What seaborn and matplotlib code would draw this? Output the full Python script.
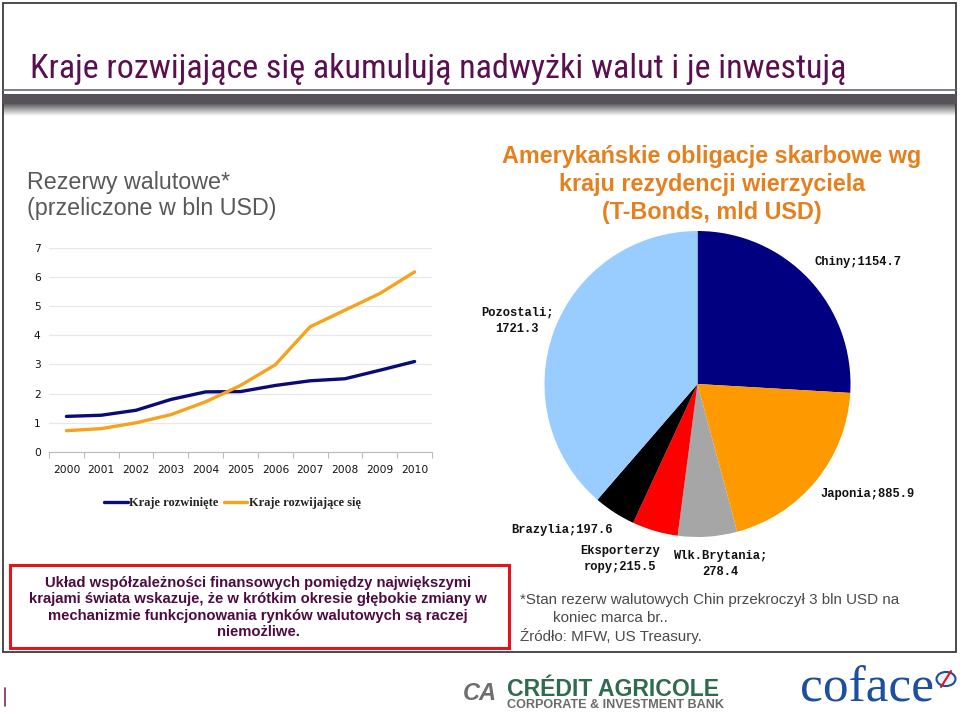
import numpy as np
import pandas as pd
import matplotlib
matplotlib.use("Agg")
import matplotlib.pyplot as plt
import seaborn as sns
from matplotlib import font_manager as fm
from matplotlib.patches import Rectangle, Circle
from matplotlib.lines import Line2D

# ---------------- data ----------------
years = [2000, 2001, 2002, 2003, 2004, 2005, 2006, 2007, 2008, 2009, 2010]
developed = [1.22, 1.26, 1.43, 1.80, 2.06, 2.07, 2.28, 2.44, 2.51, 2.80, 3.10]
developing = [0.73, 0.80, 1.00, 1.28, 1.72, 2.28, 2.99, 4.29, 4.86, 5.43, 6.17]
series_names = ["Kraje rozwinięte", "Kraje rozwijające się"]
line_colors = ["#0B0B78", "#F5A21F"]
y_ticks = [0, 1, 2, 3, 4, 5, 6, 7]

pie_names = ["Chiny", "Japonia", "Wlk.Brytania", "Eksporterzy ropy", "Brazylia", "Pozostali"]
pie_values = [1154.7, 885.9, 278.4, 215.5, 197.6, 1721.3]
pie_colors = ["#000080", "#FF9900", "#A6A6A6", "#FF0000", "#000000", "#99CCFF"]
pie_label_text = ["Chiny;1154.7", "Japonia;885.9", "Wlk.Brytania;\n278.4",
                  "Eksporterzy\nropy;215.5", "Brazylia;197.6", "Pozostali;\n1721.3"]

title = "Kraje rozwijające się akumulują nadwyżki walut i je inwestują"
left_sub = ["Rezerwy walutowe*", "(przeliczone w bln USD)"]
right_title = ["Amerykańskie obligacje skarbowe wg", "kraju rezydencji wierzyciela", "(T-Bonds, mld USD)"]
box_lines = ["Układ współzależności finansowych pomiędzy największymi",
             "krajami świata wskazuje, że w krótkim okresie głębokie zmiany w",
             "mechanizmie funkcjonowania rynków walutowych są raczej",
             "niemożliwe."]
foot_lines = ["*Stan rezerw walutowych Chin przekroczył 3 bln USD na",
              "koniec marca br..",
              "Źródło: MFW, US Treasury."]

# ---------------- setup ----------------
W, H = 960, 713
def fx(x): return x / W
def fy(y): return 1 - y / H

sns.set_theme(style="white")
plt.rcParams["font.family"] = ["Liberation Sans", "DejaVu Sans"]

# look for a condensed sans family (Arial Narrow look-alike) for the slide title
NARROW = {"family": "Liberation Sans", "stretch": "normal"}
ttf = fm.fontManager.ttflist
names = {f.name for f in ttf}
for cand in ["Liberation Sans Narrow", "Roboto Condensed", "Open Sans Condensed",
             "Noto Sans Condensed", "DejaVu Sans Condensed", "Arial Narrow"]:
    if cand in names:
        NARROW = {"family": cand, "stretch": "normal"}
        break
else:
    for f in ttf:
        if str(f.stretch) in ("condensed", "semi-condensed", "extra-condensed") and \
                f.name in ("DejaVu Sans", "Noto Sans", "Roboto", "Open Sans", "Liberation Sans"):
            NARROW = {"family": f.name, "stretch": f.stretch}
            break

fig = plt.figure(figsize=(9.6, 7.13), dpi=100)
fig.patch.set_facecolor("white")
renderer = fig.canvas.get_renderer()

def fit(t, width_px):
    w = t.get_window_extent(renderer).width
    t.set_fontsize(t.get_fontsize() * width_px / w)
    return t.get_fontsize()

# frame
fig.add_artist(Rectangle((fx(3), fy(652)), (956 - 3) / W, (652 - 3) / H, transform=fig.transFigure,
                         fill=False, edgecolor="#3c3c3c", lw=1.3, zorder=1))
# header bars
fig.add_artist(Line2D([fx(3), fx(956)], [fy(89.5), fy(89.5)], transform=fig.transFigure,
                      color="#6a6470", lw=1.2, zorder=1))
fig.add_artist(Rectangle((fx(3), fy(104)), (956 - 3) / W, 10.5 / H, transform=fig.transFigure,
                         facecolor="#57525a", edgecolor="none", zorder=1))
gax = fig.add_axes([fx(3), fy(116), (956 - 3) / W, 12 / H], zorder=0)
grad = np.linspace(0, 1, 50).reshape(-1, 1)
gax.imshow(grad, aspect="auto", cmap="gray", vmin=-0.6, vmax=1.0)
gax.axis("off")

# title texts
t = fig.text(fx(30), fy(69), title, ha="left", va="center", color="#5A0F4E", fontsize=24,
             family=NARROW["family"], fontstretch=NARROW["stretch"])
fit(t, 818)

s2 = fig.text(fx(27), fy(208), left_sub[1], ha="left", va="center", color="#595959", fontsize=15)
fs = fit(s2, 250)
fig.text(fx(27), fy(183), left_sub[0], ha="left", va="center", color="#595959", fontsize=fs)

r0 = fig.text(fx(712), fy(157), right_title[0], ha="center", va="center", color="#E4811E",
              fontsize=18, weight="bold")
fs = fit(r0, 420)
for i, ln in enumerate(right_title[1:]):
    fig.text(fx(712), fy(185 + 28 * i), ln, ha="center", va="center", color="#E4811E",
             fontsize=fs, weight="bold")

# ---------------- line chart ----------------
ax = fig.add_axes([fx(49), fy(452), (432 - 49) / W, (452 - 247.7) / H])
df = pd.DataFrame({"year": years * 2,
                   "value": developed + developing,
                   "series": [series_names[0]] * len(years) + [series_names[1]] * len(years)})
sns.lineplot(data=df, x="year", y="value", hue="series", hue_order=series_names,
             palette=line_colors, linewidth=2.4, ax=ax)
ax.set_xlim(1999.5, 2010.5)
ax.set_ylim(0, 7)
ax.set_xticks(years)
ax.set_xticklabels([str(y) for y in years])
ax.set_xticks(np.arange(1999.5, 2011, 1), minor=True)
ax.set_yticks(y_ticks)
ax.grid(axis="y", color="#e8e8e8", lw=0.9)
ax.grid(axis="x", visible=False)
ax.set_axisbelow(True)
ax.tick_params(axis="x", which="major", bottom=True, length=0, pad=9.5, labelsize=7.7, labelcolor="#111111")
ax.tick_params(axis="x", which="minor", bottom=True, length=4, width=0.8, color="#bbbbbb", direction="out")
ax.tick_params(axis="y", length=0, pad=6, labelsize=7.7, labelcolor="#111111")
for lab in ax.get_xticklabels() + ax.get_yticklabels():
    lab.set_fontfamily("DejaVu Sans")
for s in ["top", "right", "left"]:
    ax.spines[s].set_visible(False)
ax.spines["bottom"].set_color("#bbbbbb")
ax.spines["bottom"].set_linewidth(0.8)
ax.set_xlabel("")
ax.set_ylabel("")
ax.set_facecolor("none")

# legend: size the font so that the first label matches the reference width
probe = fig.text(0, 0, series_names[0], fontsize=9, family="Liberation Serif", weight="bold")
leg_fs = 9 * 89 / probe.get_window_extent(renderer).width
probe.remove()
handles, labels = ax.get_legend_handles_labels()
leg = ax.legend(handles, labels, loc="center left", bbox_to_anchor=(fx(104), fy(503)),
                bbox_transform=fig.transFigure, ncol=2, frameon=False,
                prop={"family": "Liberation Serif", "size": leg_fs, "weight": "bold"},
                handlelength=1.9, handletextpad=0.15, columnspacing=0.4,
                borderpad=0, borderaxespad=0)
for txt in leg.get_texts():
    txt.set_color("#222222")

# ---------------- pie ----------------
R = 153
pax = fig.add_axes([fx(697.5 - R), fy(384 + R), 2 * R / W, 2 * R / H])
pax.pie(pie_values, colors=pie_colors, startangle=90, counterclock=False, radius=1,
        wedgeprops=dict(linewidth=0))
pax.set_xlim(-1, 1)
pax.set_ylim(-1, 1)
pax.set_aspect("equal")
pax.axis("off")

label_pos = [(858, 262), (868, 494), (720, 564), (620, 559), (562, 530), (517, 321)]
pl = []
for txt, (x, y) in zip(pie_label_text, label_pos):
    pl.append(fig.text(fx(x), fy(y), txt, ha="center", va="center", fontsize=8.5,
                       family="Liberation Mono", weight="bold", color="#111111", linespacing=1.5))
fs = fit(pl[0], 86)
for p in pl:
    p.set_fontsize(fs)

# ---------------- red box ----------------
fig.add_artist(Rectangle((fx(10), fy(648)), (509 - 10) / W, (648 - 565) / H, transform=fig.transFigure,
                         fill=False, edgecolor="#E3141B", lw=2.2, zorder=2))
b0 = fig.text(fx(258), fy(583), box_lines[0], ha="center", va="center", fontsize=10,
              weight="bold", color="#4E0B42")
fs = fit(b0, 428)
for i, ln in enumerate(box_lines[1:]):
    fig.text(fx(258), fy(599.5 + 16.5 * i), ln, ha="center", va="center", fontsize=fs,
             weight="bold", color="#4E0B42")

# ---------------- footnote ----------------
f0 = fig.text(fx(520), fy(600), foot_lines[0], ha="left", va="center", fontsize=10.5, color="#4A4A4A")
fs = fit(f0, 381)
fig.text(fx(553), fy(618), foot_lines[1], ha="left", va="center", fontsize=fs, color="#4A4A4A")
fig.text(fx(520), fy(636), foot_lines[2], ha="left", va="center", fontsize=fs, color="#4A4A4A")

# ---------------- logos ----------------
fig.add_artist(Line2D([fx(5), fx(5)], [fy(688), fy(706)], transform=fig.transFigure,
                      color="#7A2A6A", lw=1.2))
fig.text(fx(480), fy(694), "CA", ha="center", va="center", fontsize=17, weight="bold",
         style="italic", color="#6E6E6E")
c1 = fig.text(fx(507), fy(689), "CRÉDIT AGRICOLE", ha="left", va="center", fontsize=14.5,
              weight="bold", color="#2F6B50")
fit(c1, 213)
c2 = fig.text(fx(507), fy(705), "CORPORATE & INVESTMENT BANK", ha="left", va="center", fontsize=8.5,
              weight="bold", color="#6A6A6A")
fit(c2, 215)
c3 = fig.text(fx(800), fy(702), "coface", ha="left", va="baseline", fontsize=30,
              family="Liberation Serif", color="#1D4F9E")
fit(c3, 134)
fig.add_artist(Circle((fx(946), fy(679)), 9.5 / W, transform=fig.transFigure,
                      facecolor="#EEF2FA", edgecolor="#1D4F9E", lw=1.5))
fig.add_artist(Line2D([fx(941), fx(951)], [fy(687), fy(671)], transform=fig.transFigure,
                      color="#E3141B", lw=1.5))

fig.savefig("out.png", dpi=100, facecolor="white")
